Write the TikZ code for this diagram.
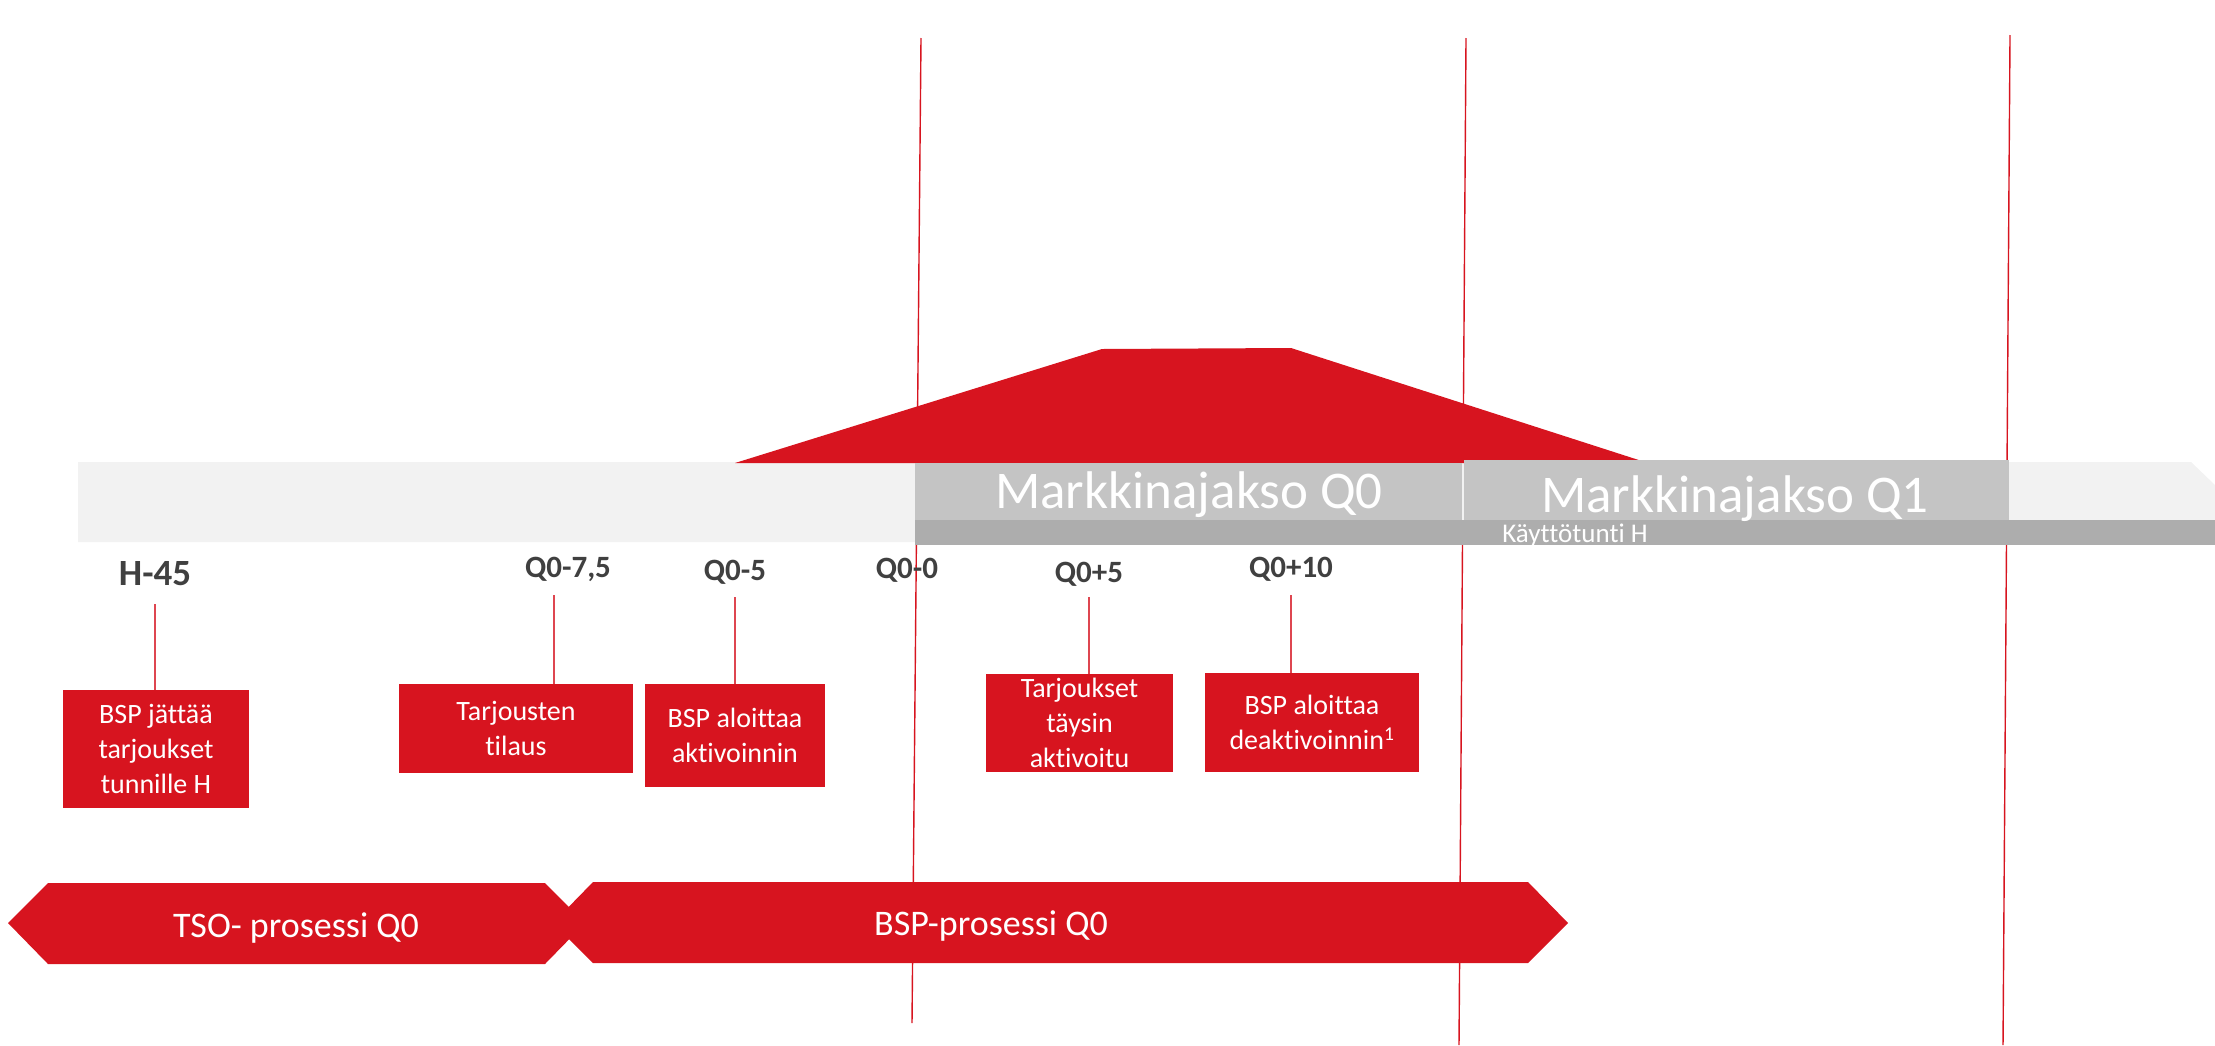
\documentclass[tikz,border=0pt]{standalone}
\usepackage{fontspec}
\setmainfont{Carlito}[Ligatures={NoCommon,NoContextual}]
\usepackage{xcolor}
\usetikzlibrary{positioning}
\definecolor{fgred}{RGB}{215,20,31}
\definecolor{tickred}{RGB}{222,70,80}
\definecolor{lightbar}{RGB}{242,242,242}
\definecolor{midbar}{RGB}{196,196,196}
\definecolor{darkbar}{RGB}{173,173,173}
\definecolor{labgray}{RGB}{64,64,64}

\begin{document}
\begin{tikzpicture}[x=1pt,y=-1pt]
	\tikzstyle{evbox}=[fill=fgred,text=white,inner sep=0pt,align=center,font=\fontsize{28}{35}\selectfont]
	\tikzstyle{tlab}=[text=labgray,inner sep=0pt,anchor=base,font=\fontsize{31}{31}\selectfont\bfseries]
	\tikzstyle{tick}=[draw=tickred,line width=2pt]
	\tikzstyle{qline}=[draw=fgred,line width=1.4pt]
	\tikzstyle{bartext}=[text=white,inner sep=0pt,anchor=base]
	\useasboundingbox (0,0) rectangle (2215,1045);

	\coordinate (l1a) at (921,38);  \coordinate (l1b) at (912,1023);
	\coordinate (l2a) at (1466,38); \coordinate (l2b) at (1459,1045);
	\coordinate (l3a) at (2010,35); \coordinate (l3b) at (2003,1045);
	\draw[qline] (l1a) -- (l1b);
	\draw[qline] (l2a) -- (l2b);
	\draw[qline] (l3a) -- (l3b);

	% time axis
	\fill[lightbar] (78,462) -- (2191,462) -- (2215,485) -- (2215,542) -- (78,542) -- cycle;
	\fill[fgred] (735,463) -- (1102,349) -- (1291,348) -- (1648,463) -- cycle;
	\fill[midbar] (915,463) rectangle (1462,520);
	\fill[midbar] (1464,460) rectangle (2009,520);
	\fill[darkbar] (915,520) rectangle (2215,545);
	\node[bartext,font=\fontsize{53}{53}\selectfont] (mq0) at (1189,508) {Markkinajakso Q0};
	\node[bartext,font=\fontsize{53}{53}\selectfont] (mq1) at (1735,512) {Markkinajakso Q1};
	\node[bartext,font=\fontsize{27}{27}\selectfont] (kh) at (1575,542) {Käyttötunti H};

	\node[tlab,font=\fontsize{37}{37}\selectfont\bfseries] (h45) at (155,585) {H-45};
	\node[tlab] (q75)  at (568,577)  {Q0-7,5};
	\node[tlab] (q5)   at (735,580)  {Q0-5};
	\node[tlab] (q0)   at (907,578)  {Q0-0};
	\node[tlab] (p5)   at (1089,582) {Q0+5};
	\node[tlab] (p10)  at (1291,577) {Q0+10};

	\node[evbox,minimum width=186,minimum height=118] (bh45) at (156,749)    {BSP jättää\\tarjoukset\\tunnille H};
	\node[evbox,minimum width=234,minimum height=89]  (b75)  at (516,728.5)  {Tarjousten\\tilaus};
	\node[evbox,minimum width=180,minimum height=103] (b5)   at (735,735.5)  {BSP aloittaa\\aktivoinnin};
	\node[evbox,minimum width=187,minimum height=98]  (bp5)  at (1079.5,723) {Tarjoukset\\täysin\\aktivoitu};
	\node[evbox,minimum width=214,minimum height=99]  (bp10) at (1312,722.5) {BSP aloittaa\\deaktivoinnin\textsuperscript{1}};

	\coordinate (k75) at ([xshift=-14pt]q75.base);
	\draw[tick] ([yshift=-19pt]h45.base) -- (h45.base |- bh45.north);
	\draw[tick] ([yshift=-18pt]k75) -- (k75 |- b75.north);
	\draw[tick] ([yshift=-17pt]q5.base) -- (q5.base |- b5.north);
	\draw[tick] ([yshift=-15pt]p5.base) -- (p5.base |- bp5.north);
	\draw[tick] ([yshift=-18pt]p10.base) -- (p10.base |- bp10.north);

	% processes
	\fill[fgred] (8,923) -- (48,883) -- (545,883) -- (585,923) -- (545,964) -- (48,964) -- cycle;
	\fill[fgred] (553,923) -- (593,882) -- (1528,882) -- (1568,923) -- (1528,963) -- (593,963) -- cycle;
	\node[bartext,font=\fontsize{36}{36}\selectfont] (tso) at (296,937) {TSO- prosessi Q0};
	\node[bartext,font=\fontsize{36}{36}\selectfont] (bsp) at (991,935) {BSP-prosessi Q0};
\end{tikzpicture}
\end{document}
